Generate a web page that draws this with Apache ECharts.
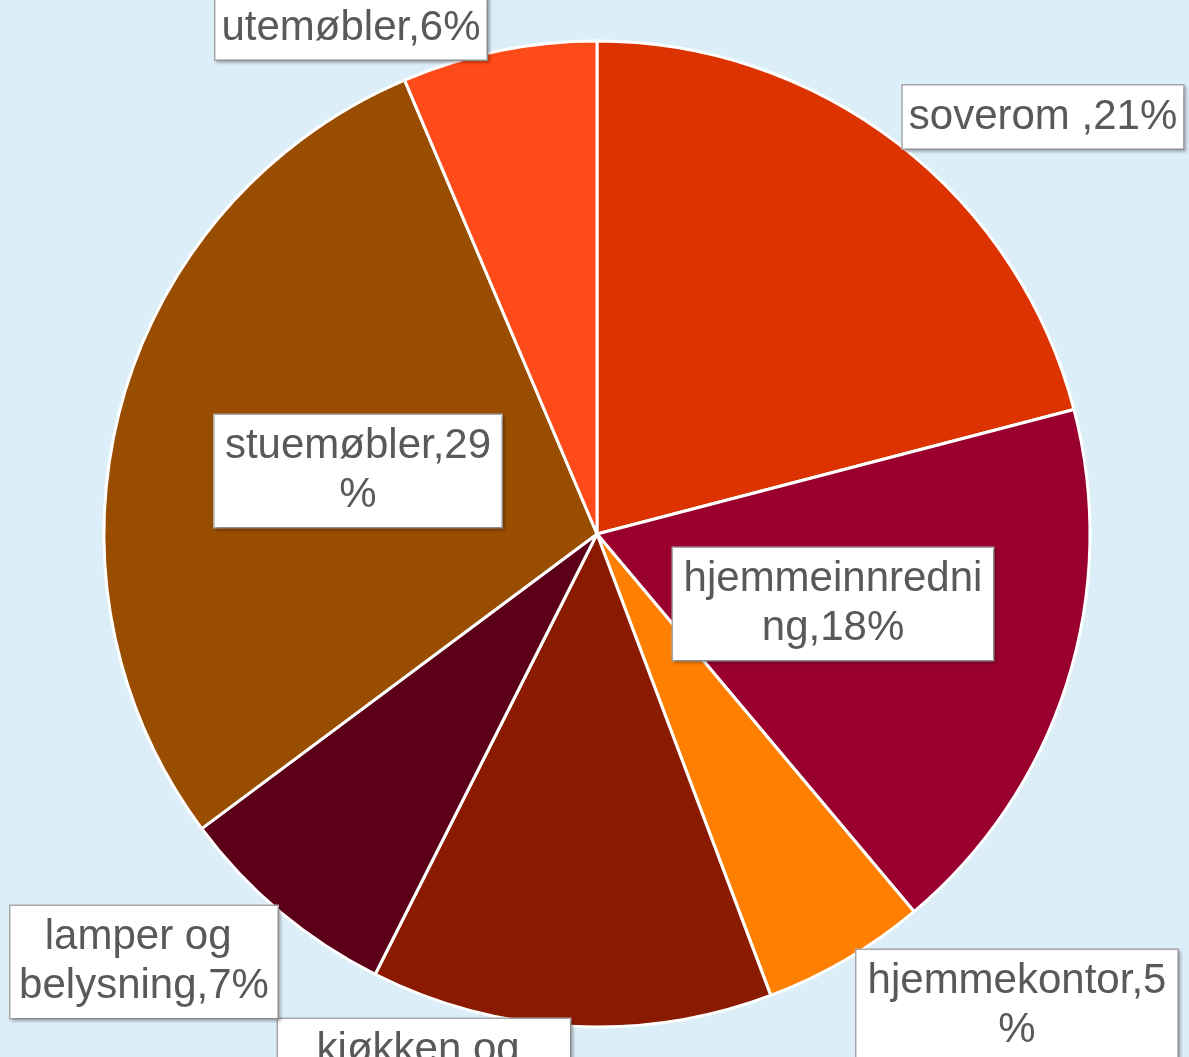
<!DOCTYPE html>
<html><head><meta charset="utf-8">
<style>html,body{margin:0;padding:0;background:#dceef8;}#c{width:1189px;height:1057px;}</style>
<script src="https://cdn.jsdelivr.net/npm/echarts@6/dist/echarts.min.js"></script>
</head><body><div id="c"></div>
<script>
const categories = ['soverom ', 'hjemmeinnredning', 'hjemmekontor', 'kjøkken og spisestue', 'lamper og belysning', 'stuemøbler', 'utemøbler'];
const values = [21.0, 18.0, 5.4, 13.2, 7.4, 28.9, 6.4];
const colors = ['#dc3300', '#990030', '#ff8000', '#8a1a00', '#5c0019', '#994d00', '#ff4a1a'];
const labelCenters = [[1043, 117], [833, 604], [1017, 1006], [424, 1075], [144, 962], [358, 471], [351, 28]];
const labelWidths = [null, 308, 309, 280, 255, 287, null];
const labelPadX = [6, 6, 6, 6, 6, 0, 6];
const labelWrap = ['none', 'breakAll', 'breakAll', 'break', 'break', 'breakAll', 'none'];

const chart = echarts.init(document.getElementById('c'));
chart.setOption({
  backgroundColor: '#dceef8',
  animation: false,
  series: [{
    type: 'pie',
    center: [597, 534],
    radius: 493,
    startAngle: 90,
    clockwise: true,
    avoidLabelOverlap: false,
    itemStyle: { borderColor: '#ffffff', borderWidth: 3 },
    labelLine: { show: false },
    label: {
      show: true,
      position: 'outside',
      formatter: p => p.name + ',' + Math.round(p.percent) + '%',
      fontFamily: 'Liberation Sans, Arial, sans-serif',
      fontSize: 42,
      lineHeight: 49,
      color: '#595959',
      backgroundColor: '#ffffff',
      borderColor: '#a8a8a8',
      borderWidth: 1.5,
      padding: [7, 6],
      align: 'center',
      shadowColor: 'rgba(0,0,0,0.2)',
      shadowBlur: 3,
      shadowOffsetX: 2,
      shadowOffsetY: 2
    },
    labelLayout: function (params) {
      const c = labelCenters[params.dataIndex];
      return { x: c[0], y: c[1], align: 'center', verticalAlign: 'middle', moveOverlap: null };
    },
    data: categories.map((n, i) => {
      const lbl = { overflow: labelWrap[i], padding: [7, labelPadX[i]] };
      if (labelWidths[i]) lbl.width = labelWidths[i];
      return { name: n, value: values[i], itemStyle: { color: colors[i] }, label: lbl };
    })
  }]
});
</script></body></html>
